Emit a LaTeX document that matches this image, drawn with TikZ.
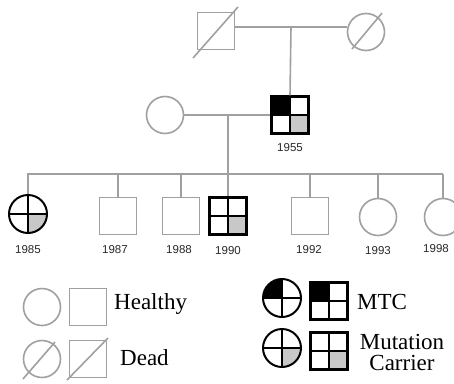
\documentclass[tikz,border=0pt]{standalone}
\usepackage{fontspec}
\setmainfont{Liberation Serif}
\newfontfamily\yearfont{Liberation Sans}
\usetikzlibrary{calc}
\definecolor{lgray}{RGB}{160,160,160}
\definecolor{cgray}{RGB}{200,200,200}
\definecolor{ytext}{RGB}{40,40,40}
\newcommand\pedq[2]{%
  \fill[#1] (path picture bounding box.center) rectangle (path picture bounding box.north west);
  \fill[#2] (path picture bounding box.center) rectangle (path picture bounding box.south east);
  \draw[black,line width=1.6pt] (path picture bounding box.north) -- (path picture bounding box.south)
    (path picture bounding box.west) -- (path picture bounding box.east);}
\begin{document}
\begin{tikzpicture}[x=1pt,y=-1pt,
  lg/.style={draw=lgray,line width=1.6pt},
  sq/.style={rectangle,minimum size=37pt,inner sep=0pt,lg},
  ci/.style={circle,minimum size=37pt,inner sep=0pt,lg},
  asq/.style={rectangle,minimum size=37pt,inner sep=0pt,draw=black,line width=2.2pt},
  aci/.style={circle,minimum size=38pt,inner sep=0pt,draw=black,line width=2pt},
  mtcq/.style={path picture={\pedq{black}{white}}},
  carq/.style={path picture={\pedq{white}{cgray}}},
  bothq/.style={path picture={\pedq{black}{cgray}}},
  year/.style={font=\yearfont\fontsize{11.5}{13}\selectfont,text=ytext,inner sep=0pt},
  leg/.style={font=\fontsize{23}{21}\selectfont,text=black,inner sep=0pt},
  link/.style={draw=lgray,line width=1.6pt}]
\useasboundingbox (0,0) rectangle (454,383);
% generation I
\node[sq] (g1m) at (216,31) {};
\node[ci] (g1f) at (366,32) {};
\draw[lg] ($(g1m.center)+(-23,27)$) -- ($(g1m.center)+(22,-24)$);
\draw[lg] ($(g1f.center)+(-14,17)$) -- ($(g1f.center)+(16,-19)$);
\draw[link] ($(g1m.east)+(0,-4)$) -- ($(g1f.west)+(0,-5)$);
\coordinate (m1) at (291,27);
% generation II
\node[ci] (wife) at (165,115) {};
\node[asq,bothq] (p55) at (290,115) {};
\node[year] (y55) at (290,148) {1955};
\draw[link] (m1) -- (p55.north);
\draw[link] (wife.east) -- (p55.west);
\coordinate (m2) at (228,115);
\coordinate (s0) at (228,174);
\coordinate (sl) at (27,174);
\coordinate (sr) at (443,174);
\draw[link] (m2) -- (s0);
\draw[link] (sl) -- (sr);
% generation III
\node[aci,carq] (c85) at (28,214) {};
\node[sq] (c87) at (118,216) {};
\node[sq] (c88) at (181,216) {};
\node[asq,carq] (c90) at (228,216) {};
\node[sq] (c92) at (310,216) {};
\node[ci] (c93) at (378,217) {};
\node[ci] (c98) at (443,217) {};
\foreach \n/\x in {c85/28,c87/118,c88/181,c90/228,c92/310,c93/378,c98/443}
  \draw[link] (\x,174) -- (\n.north);
\node[year] (y85) at (28,250) {1985};
\node[year] (y87) at (115,250) {1987};
\node[year] (y88) at (179,250) {1988};
\node[year] (y90) at (228,251) {1990};
\node[year] (y92) at (309,250) {1992};
\node[year] (y93) at (378,251) {1993};
\node[year] (y98) at (436,249) {1998};
% legend
\node[ci] (lhc) at (42,307) {};
\node[sq] (lhs) at (88,307) {};
\node[leg,anchor=west] (lht) at (114,304) {Healthy};
\node[ci] (ldc) at (42,359) {};
\node[sq] (lds) at (88,359) {};
\draw[lg] ($(ldc.center)+(-19,20)$) -- ($(ldc.center)+(13,-17)$);
\draw[lg] ($(lds.center)+(-21,21)$) -- ($(lds.center)+(20,-21)$);
\node[leg,anchor=west] (ldt) at (120,358) {Dead};
\node[aci,mtcq] (lmc) at (282,298) {};
\node[asq,mtcq] (lms) at (329,301) {};
\node[leg,anchor=west] (lmt) at (357,302) {MTC};
\node[aci,carq] (lcc) at (282,348) {};
\node[asq,carq] (lcs) at (329,351) {};
\node[leg,align=center] (lct) at (402,352) {Mutation\\Carrier};
\end{tikzpicture}
\end{document}
